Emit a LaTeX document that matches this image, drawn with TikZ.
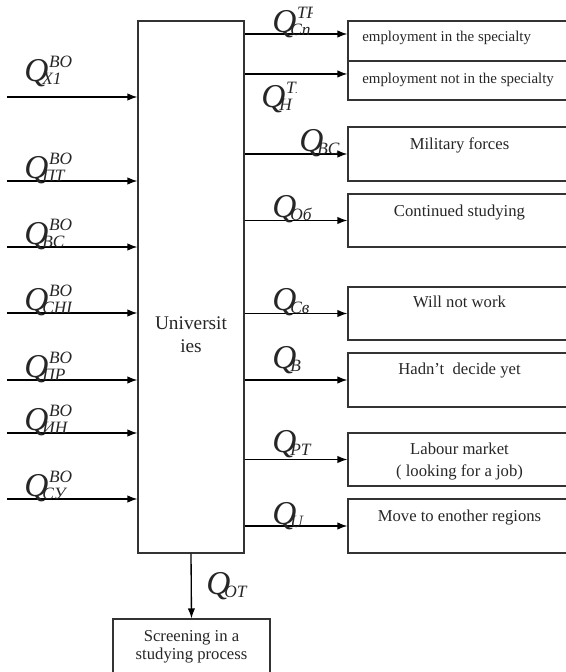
\documentclass[tikz,border=0pt]{standalone}
\usepackage{fontspec}
\setmainfont{Liberation Serif}
\usetikzlibrary{arrows.meta,fit}

% flow variable: italic Q with a superscript and a subscript
\newcommand\flowq[2]{{\fontsize{25}{25}\selectfont\itshape Q}%
  \rlap{\raisebox{10.5pt}{\fontsize{13}{13}\selectfont\itshape\kern0.5pt #1}}%
  \kern-4.5pt\raisebox{-2.5pt}{\fontsize{13}{13}\selectfont\itshape #2}}

\tikzset{
  box/.style={draw=black!80, line width=0.8pt, inner sep=0pt},
  flow/.style={draw=black, line width=1pt, -{Latex[length=7.5pt,width=5.5pt]}},
  boxtext/.style={inner sep=0pt, anchor=base, text=black!85, font=\fontsize{12.5}{12.5}\selectfont},
  smalltext/.style={inner sep=0pt, anchor=base west, text=black!85, font=\fontsize{11.2}{11.2}\selectfont},
  qlab/.style={inner sep=0pt, anchor=base west, text=black!85},
}

\begin{document}
\begin{tikzpicture}[x=0.75pt, y=-0.75pt]
\clip (0,0) rectangle (566,672);

% central block
\node[box, fit={(138,21) (244,553)}] (univ) {};
\node[boxtext, font=\fontsize{14.5}{14.5}\selectfont] (univt1) at (191,329) {Universit};
\node[boxtext, font=\fontsize{14.5}{14.5}\selectfont] (univt2) at (191,352) {ies};

% destination boxes
\node[box, fit={(348,21) (571,61)}] (spec) {};
\node[box, fit={(348,61) (571,100)}] (nspec) {};
\node[box, fit={(348,127) (571,181)}] (mil) {};
\node[box, fit={(348,194) (571,247)}] (study) {};
\node[box, fit={(348,287) (571,340)}] (nowork) {};
\node[box, fit={(348,353) (571,407)}] (undec) {};
\node[box, fit={(348,433) (571,486)}] (labour) {};
\node[box, fit={(348,499) (571,553)}] (move) {};
\node[box, fit={(113,619) (270,700)}] (screen) {};

\node[smalltext] (spect) at (362,41) {employment in the specialty};
\node[smalltext] (nspect) at (362,83) {employment not in the specialty};
\node[boxtext] (milt) at (459.5,149) {Military forces};
\node[boxtext] (studyt) at (459.5,216) {Continued studying};
\node[boxtext] (noworkt) at (459.5,307) {Will not work};
\node[boxtext] (undect) at (459.5,374) {Hadn't~ decide yet};
\node[boxtext] (labourt1) at (459.5,454) {Labour market};
\node[boxtext] (labourt2) at (459.5,476) {( looking for a job)};
\node[boxtext] (movet) at (459.5,521) {Move to enother regions};
\node[boxtext] (screent1) at (191.5,641) {Screening in a};
\node[boxtext] (screent2) at (191.5,659) {studying process};

% incoming flows
\coordinate (in1) at (7,97);
\coordinate (in2) at (7,181);
\coordinate (in3) at (7,247);
\coordinate (in4) at (7,313);
\coordinate (in5) at (7,380);
\coordinate (in6) at (7,433);
\coordinate (in7) at (7,499);
\foreach \i in {1,...,7} \draw[flow] (in\i) -- (in\i -| univ.west);

\node[qlab] (qx1) at (24,81) {\flowq{BO}{X1}};
\node[qlab] (qpt) at (24,178.5) {\flowq{BO}{ПТ}};
\node[qlab] (qbc) at (24,244.5) {\flowq{BO}{BC}};
\begin{scope}
  \clip (0,270) rectangle (71,330);
  \node[qlab] (qsng) at (24,310.5) {\flowq{BO}{CHГ}};
\end{scope}
\node[qlab] (qpr) at (24,377.5) {\flowq{BO}{ПР}};
\begin{scope}
  \clip (0,400) rectangle (72,450);
  \node[qlab] (qin) at (24,430.5) {\flowq{BO}{ИН}};
\end{scope}
\node[qlab] (qsu) at (24,496.5) {\flowq{BO}{CУ}};

% outgoing flows
\draw[flow] ([yshift=5.25pt]spec.west -| univ.east) -- ([yshift=5.25pt]spec.west);
\draw[flow] ([yshift=4.9pt]nspec.west -| univ.east) -- ([yshift=4.9pt]nspec.west);
\foreach \b in {mil,study,nowork,undec,labour,move}
  \draw[flow] (\b.west -| univ.east) -- (\b.west);
\draw[flow] (univ.south) -- (screen.north);

\begin{scope}
  \clip (240,0) rectangle (312,60);
  \node[qlab] (qsp) at (272,32) {\flowq{TP}{Cп}};
\end{scope}
\begin{scope}
  \clip (240,80) rectangle (296,125);
  \node[qlab] (qh) at (261,107) {\flowq{TP}{H}};
\end{scope}
\begin{scope}
  \clip (280,120) rectangle (339,170);
  \node[qlab] (qvs) at (299,151.5) {\flowq{}{BC}};
\end{scope}
\begin{scope}
  \clip (250,185) rectangle (311,235);
  \node[qlab] (qob) at (272,217.5) {\flowq{}{Oб}};
\end{scope}
\node[qlab] (qsv) at (272,310.5) {\flowq{}{Cв}};
\node[qlab] (qb) at (272,368) {\flowq{}{B}};
\node[qlab] (qrt) at (272,452) {\flowq{}{PT}};
\node[qlab] (qu) at (272,524) {\flowq{}{U}};
\node[qlab] (qot) at (206,594) {\flowq{}{OT}};
\end{tikzpicture}
\end{document}
